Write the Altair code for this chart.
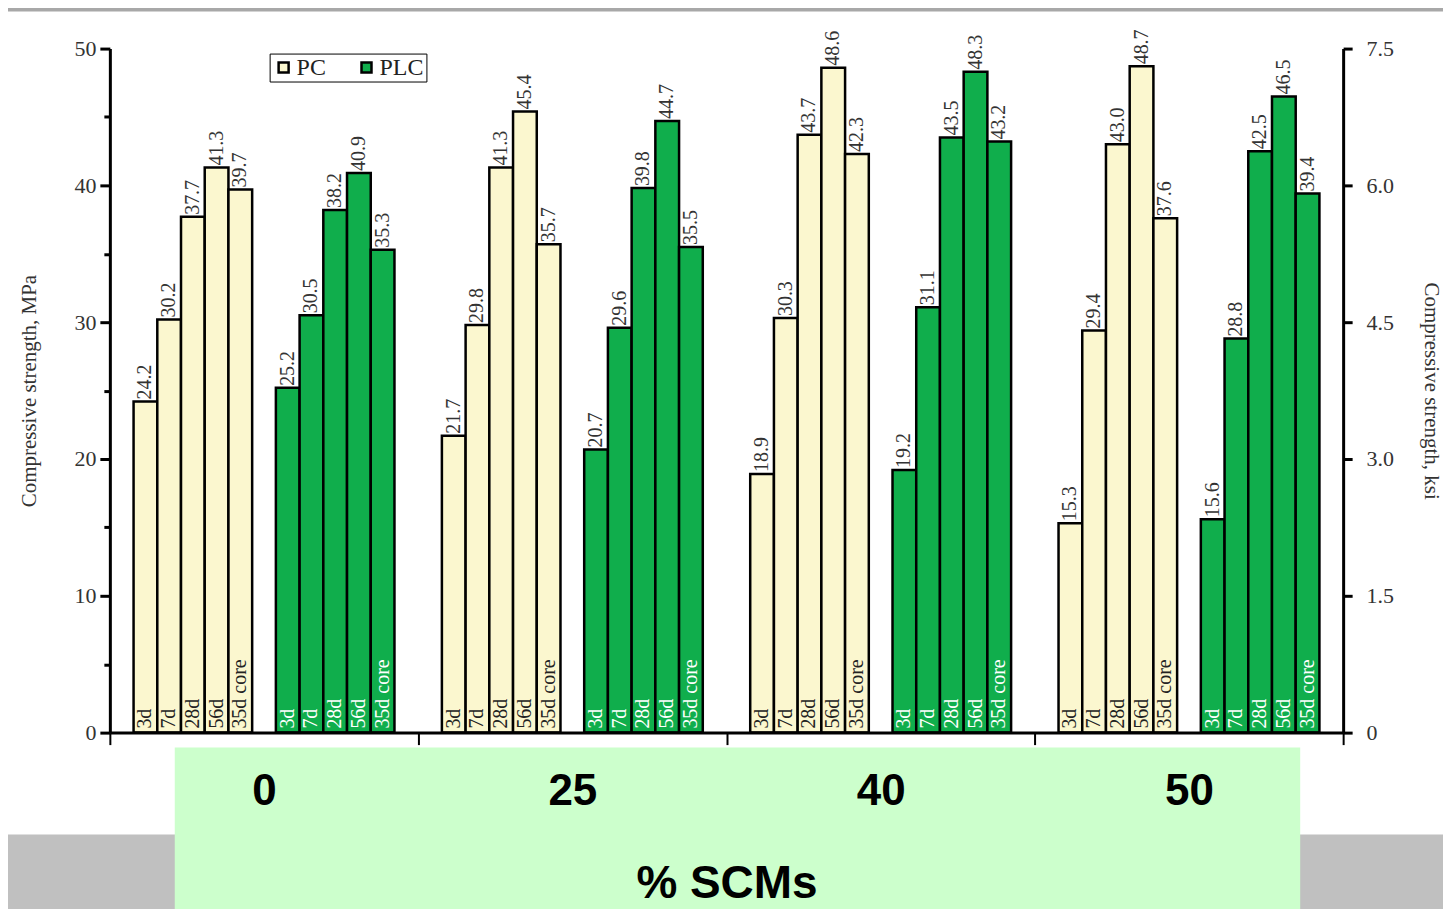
import altair as alt
import pandas as pd

groups = ["0", "25", "40", "50"]
ages = ["3d", "7d", "28d", "56d", "35d core"]
cements = ["PC", "PLC"]
pc_values = [
    [24.2, 30.2, 37.7, 41.3, 39.7],
    [21.7, 29.8, 41.3, 45.4, 35.7],
    [18.9, 30.3, 43.7, 48.6, 42.3],
    [15.3, 29.4, 43.0, 48.7, 37.6],
]
plc_values = [
    [25.2, 30.5, 38.2, 40.9, 35.3],
    [20.7, 29.6, 39.8, 44.7, 35.5],
    [19.2, 31.1, 43.5, 48.3, 43.2],
    [15.6, 28.8, 42.5, 46.5, 39.4],
]
colors = ["#FBF7CF", "#10AE4C"]

rows = []
for gi, g in enumerate(groups):
    for cem, vals in (("PC", pc_values), ("PLC", plc_values)):
        for ai, a in enumerate(ages):
            rows.append({"group": g, "cement": cem, "age": a,
                         "slot": f"{cem} {a}", "value": vals[gi][ai]})
df = pd.DataFrame(rows)

slot_domain = [f"PC {a}" for a in ages] + ["gap"] + [f"PLC {a}" for a in ages]

W, H = 1235, 685
SERIF = "Liberation Serif"
SANS = "Liberation Sans"

xenc = alt.X(
    "group:N",
    scale=alt.Scale(domain=groups, paddingInner=0, paddingOuter=0),
    axis=alt.Axis(
        title="% SCMs", labelAngle=0, labelFont=SANS, labelFontSize=44,
        labelFontWeight="bold", labelColor="black", labelPadding=25,
        titleFont=SANS, titleFontSize=46, titleFontWeight="bold",
        titleColor="black", titlePadding=48,
        domainColor="black", domainWidth=3, tickColor="black", tickWidth=2,
        tickSize=12, tickBand="extent", zindex=1,
    ),
)
xoff = alt.XOffset("slot:N", scale=alt.Scale(domain=slot_domain, paddingInner=0, paddingOuter=1.0))

yenc = alt.Y(
    "value:Q",
    scale=alt.Scale(domain=[0, 50], nice=False),
    axis=alt.Axis(
        title="Compressive strength, MPa", values=list(range(0, 51, 5)),
        labelExpr="datum.value % 10 == 0 ? datum.label : ''",
        labelFont=SERIF, labelFontSize=22, labelColor="#333", labelPadding=4,
        titleFont=SERIF, titleFontSize=21, titleFontWeight="normal",
        titleColor="#333", titlePadding=34,
        domainColor="black", domainWidth=3, tickColor="black", tickWidth=3,
        tickSize={"condition": {"test": "datum.value % 10 == 0", "value": 10}, "value": 6},
        grid=False, zindex=1,
    ),
)

deco = alt.Data(values=[{"k": 1}])
gray_band = alt.Chart(deco).mark_rect(color="#C0C0C0").encode(
    x=alt.value(-110), x2=alt.value(1345), y=alt.value(787), y2=alt.value(880))
green_box = alt.Chart(deco).mark_rect(color="#CCFFCC").encode(
    x=alt.value(65), x2=alt.value(1192), y=alt.value(700), y2=alt.value(880))
top_bar = alt.Chart(deco).mark_rect(color="#A8A8A8").encode(
    x=alt.value(-110), x2=alt.value(1345), y=alt.value(-48), y2=alt.value(-37))

base = alt.Chart(df)

bars = base.mark_bar(stroke="black", strokeWidth=2.5).encode(
    x=xenc, xOffset=xoff, y=yenc,
    color=alt.Color(
        "cement:N", scale=alt.Scale(domain=cements, range=colors),
        legend=alt.Legend(
            title=None, orient="none", legendX=160, legendY=5,
            direction="horizontal", strokeColor="black", fillColor="white",
            padding=2, symbolType="square", symbolSize=100,
            symbolStrokeColor="black", symbolStrokeWidth=2.5,
            labelFont=SERIF, labelFontSize=24, labelColor="#222",
            columnPadding=28, labelOffset=1,
        ),
    ),
)

value_text = base.mark_text(
    angle=270, align="left", baseline="middle", dx=2,
    font=SERIF, fontSize=20, color="#333",
).encode(
    x=xenc, xOffset=xoff, y=yenc,
    text=alt.Text("value:Q", format=".1f"),
)

age_text = base.mark_text(
    angle=270, align="left", baseline="middle", dx=4,
    font=SERIF, fontSize=20,
).encode(
    x=xenc, xOffset=xoff, y=alt.datum(0),
    text="age:N",
    color=alt.condition(alt.datum.cement == "PC", alt.value("#222"), alt.value("white")),
)

left = alt.layer(gray_band, green_box, top_bar, bars, value_text, age_text)

ksi = base.transform_calculate(ksi="datum.value * 0.15").mark_point(opacity=0).encode(
    x=xenc,
    y=alt.Y(
        "ksi:Q", scale=alt.Scale(domain=[0, 7.5], nice=False),
        axis=alt.Axis(
            orient="right", title="Compressive strength, ksi",
            values=[0, 1.5, 3.0, 4.5, 6.0, 7.5],
            labelExpr="datum.value == 0 ? '0' : format(datum.value, '.1f')",
            labelFont=SERIF, labelFontSize=22, labelColor="#333", labelPadding=14,
            titleFont=SERIF, titleFontSize=21, titleFontWeight="normal",
            titleColor="#333", titlePadding=27,
            domainColor="black", domainWidth=3, tickColor="black", tickWidth=3,
            tickSize=9, grid=False, zindex=1,
        ),
    ),
)

chart = alt.layer(left, ksi).resolve_scale(y="independent").properties(
    width=W, height=H,
    background="white",
    autosize=alt.AutoSizeParams(type="none"),
    padding={"left": 102, "top": 40, "right": 100, "bottom": 176},
).configure_view(stroke=None)

chart.save("out.html", embed_options={"renderer": "svg", "actions": False})
